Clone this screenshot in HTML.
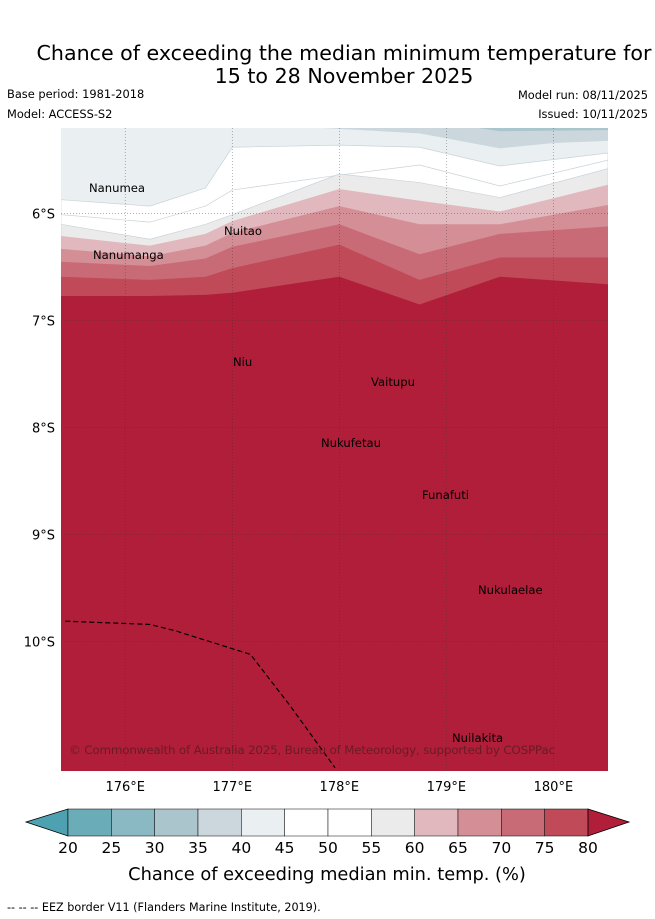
<!DOCTYPE html>
<html><head><meta charset="utf-8"><style>
body{margin:0;background:#fff;width:655px;height:919px;overflow:hidden;font-family:"DejaVu Sans","Liberation Sans",sans-serif}
svg{position:absolute;left:0;top:0}
</style></head><body>
<svg width="655" height="919">
<text x="344" y="60" font-size="20.6" text-anchor="middle">Chance of exceeding the median minimum temperature for</text>
<text x="344" y="83" font-size="20.6" text-anchor="middle">15 to 28 November 2025</text>
<text x="7" y="98" font-size="11.4">Base period: 1981-2018</text>
<text x="7" y="118" font-size="11.4">Model: ACCESS-S2</text>
<text x="648" y="99" font-size="11.4" text-anchor="end">Model run: 08/11/2025</text>
<text x="648" y="118" font-size="11.4" text-anchor="end">Issued: 10/11/2025</text>
<defs><clipPath id="mc"><rect x="61" y="128" width="547" height="643"/></clipPath></defs>
<g id="map" clip-path="url(#mc)"></g>
<g id="cb"></g>
<text x="327" y="880" font-size="17.8" text-anchor="middle">Chance of exceeding median min. temp. (%)</text>
<text x="7" y="911" font-size="11.2">-- -- -- EEZ border V11 (Flanders Marine Institute, 2019).</text>
</svg>
<script>
const NS="http://www.w3.org/2000/svg";
const lonMin=175.4,lonMax=180.51,latTop=5.2,latBot=11.21;
const X=l=>61+(l-lonMin)/(lonMax-lonMin)*547;
const Y=l=>128+(l-latTop)/(latBot-latTop)*643;
const nodeLons=[175.4,176.23,176.75,177.0,178.0,178.75,179.5,180.51];
const bandLevels=[45,55,60,65,70,75,80];
const b45=[5.87,5.93,5.76,5.38,5.36,5.38,5.555,5.434];
const b50=[6.01,6.08,5.93,5.78,5.64,5.546,5.742,5.5];
const b55=[6.1,6.24,6.1,6.01,5.63,5.71,5.85,5.58];
const b60=[6.21,6.3,6.19,6.07,5.77,5.88,5.98,5.73];
const b65=[6.33,6.4,6.3,6.18,5.93,6.1,6.1,5.92];
const b70=[6.45,6.49,6.42,6.31,6.1,6.38,6.19,6.12];
const b75=[6.59,6.62,6.59,6.51,6.29,6.62,6.41,6.41];
const b80=[6.77,6.77,6.76,6.74,6.59,6.85,6.59,6.66];
const bounds=[b45,b55,b60,b65,b70,b75,b80];
const colorsByLevel={20:"#6aacb8",25:"#8ab8c3",30:"#aac6cc",35:"#cbd7dc",40:"#eaeff2",45:"#ffffff",50:"#ffffff",55:"#ecebeb",60:"#e0b8bd",65:"#d48e96",70:"#c96b76",75:"#c04a58",80:"#b01e39"};
const map=document.getElementById('map');
function mk(t,a,p){const e=document.createElementNS(NS,t);for(const k in a)e.setAttribute(k,a[k]);(p||map).appendChild(e);return e;}
let bg=mk('rect',{x:61,y:128,width:547,height:643,fill:colorsByLevel[40]});


const p35lon=[177.85,178.75,179.5,180.0,180.51];
const p35lat=[5.2,5.25,5.39,5.34,5.32];
let d="M"+X(177.85)+","+Y(5.2);
p35lon.forEach((l,i)=>d+=" L"+X(l)+","+Y(p35lat[i]));
d+=" L"+X(180.51)+","+Y(5.2)+"Z";
let p35=mk('path',{d:d,fill:colorsByLevel[35]});


let p30=mk('path',{d:"M"+X(179.3)+","+Y(5.2)+" L"+X(179.5)+","+Y(5.23)+" L"+X(180.51)+","+Y(5.22)+" L"+X(180.51)+","+Y(5.2)+"Z",fill:colorsByLevel[30]});


bounds.forEach((b,i)=>{
 let s="M"+X(nodeLons[0])+","+Y(b[0]);
 for(let j=1;j<b.length;j++)s+=" L"+X(nodeLons[j])+","+Y(b[j]);
 s+=" L"+X(lonMax)+","+Y(latBot)+" L"+X(lonMin)+","+Y(latBot)+"Z";
 const p=mk('path',{d:s,fill:colorsByLevel[bandLevels[i]],stroke:i<2?"#c9d3d8":"none","stroke-width":0.7});
 
 
 if(i===0){
  const ln=mk('polyline',{points:b50.map((v,j)=>X(nodeLons[j])+","+Y(v)).join(" "),fill:"none",stroke:"#c9d3d8","stroke-width":0.7});
  
  
 }
});
const lonTicks=[176,177,178,179,180];
const latTicks=[6,7,8,9,10];
lonTicks.forEach(l=>{const g=mk('line',{x1:X(l),x2:X(l),y1:128,y2:771,stroke:"#333","stroke-width":0.6,"stroke-dasharray":"1,2",opacity:0.6});
 });
latTicks.forEach(l=>{const g=mk('line',{x1:61,x2:608,y1:Y(l),y2:Y(l),stroke:"#333","stroke-width":0.6,"stroke-dasharray":"1,2",opacity:0.6});
 });
const svg=document.querySelector('svg');
lonTicks.forEach(l=>{const t=mk('text',{x:X(l),y:791,"font-size":13,"text-anchor":"middle"},svg);t.textContent=l+"°E";
 });
latTicks.forEach(l=>{const t=mk('text',{x:55,y:Y(l)+5,"font-size":13,"text-anchor":"end"},svg);t.textContent=l+"°S";
 });
const eezLon=[175.44,176.23,176.47,177.17,177.54,177.96];
const eezLat=[9.81,9.84,9.9,10.12,10.6,11.18];
const e=mk('polyline',{points:eezLon.map((l,i)=>X(l)+","+Y(eezLat[i])).join(" "),fill:"none",stroke:"#000","stroke-width":1.2,"stroke-dasharray":"5,3"});

const islands=[["Nanumea",89,192],["Nuitao",224,235],["Nanumanga",93,259],["Niu",233,366],["Vaitupu",371,386],["Nukufetau",321,447],["Funafuti",422,499],["Nukulaelae",478,594],["Nuilakita",452,742]];
islands.forEach(s=>{const t=mk('text',{x:s[1],y:s[2],"font-size":11.6});t.textContent=s[0];
 });
const c=mk('text',{x:69,y:754,"font-size":11.9,fill:"#5a1a22",opacity:0.8,textLength:486});c.textContent="© Commonwealth of Australia 2025, Bureau of Meteorology, supported by COSPPac";

const cb=document.getElementById('cb');
const cbLevels=[20,25,30,35,40,45,50,55,60,65,70,75];
const cbX=v=>68+(v-20)/60*520;
let la=mk('polygon',{points:"26,822 68,809 68,836",fill:"#4ea1b1",stroke:"#000","stroke-width":0.8},cb);

cbLevels.forEach(v=>{const r=mk('rect',{x:cbX(v),y:809,width:cbX(v+5)-cbX(v),height:27,fill:colorsByLevel[v],stroke:"#000","stroke-width":0.5},cb);
 });
let ha=mk('polygon',{points:"588,809 629,822 588,836",fill:"#b01e39",stroke:"#000","stroke-width":0.8},cb);

for(let v=20;v<=80;v+=5){const t=mk('text',{x:cbX(v),y:853,"font-size":15.5,"text-anchor":"middle"},cb);t.textContent=v;
 }
</script>
</body></html>
